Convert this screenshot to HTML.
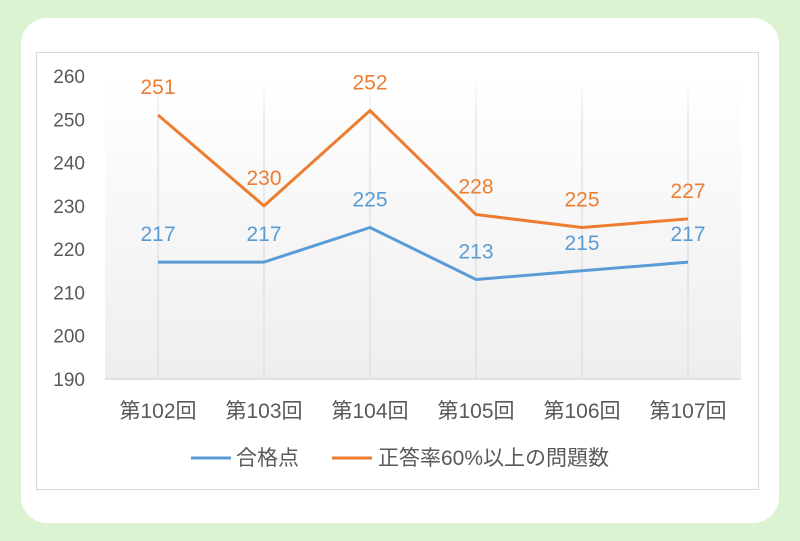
<!DOCTYPE html>
<html><head><meta charset="utf-8"><style>
html,body{margin:0;padding:0;background:#dcf3d2;width:800px;height:541px;overflow:hidden}
#card{position:absolute;left:21px;top:18px;width:758px;height:505px;background:#fff;border-radius:26px}
svg{position:absolute;left:0;top:0}
text{font-family:"Liberation Sans","Noto Sans CJK JP",sans-serif}
</style></head><body>
<div id="card"></div>
<svg id="chart" width="800" height="541">
<defs><linearGradient id="bg" x1="0" y1="0" x2="0" y2="1"><stop offset="0" stop-color="#ffffff"/><stop offset="1" stop-color="#eeeeee"/></linearGradient>
<linearGradient id="gg" x1="0" y1="0" x2="0" y2="1"><stop offset="0" stop-color="#d9d9d9" stop-opacity="0"/><stop offset="0.15" stop-color="#d9d9d9" stop-opacity="1"/><stop offset="1" stop-color="#d9d9d9"/></linearGradient></defs>
<rect x="36.5" y="52.5" width="722" height="437" fill="#fff" stroke="#d9d9d9"/>
<rect x="105" y="76" width="636" height="303" fill="url(#bg)"/>
<g id="grid"></g><g id="yticks"></g><g id="xticks"></g><g id="series"></g>
<g>
<line x1="191" y1="458" x2="231" y2="458" stroke="#5b9bd5" stroke-width="3"/>
<text x="236" y="465" font-size="21" fill="#595959">合格点</text>
<line x1="332" y1="458" x2="372" y2="458" stroke="#ed7d31" stroke-width="3"/>
<text x="378" y="465" font-size="21" fill="#595959">正答率60%以上の問題数</text>
</g>
</svg>
<script>
const categories=["第102回","第103回","第104回","第105回","第106回","第107回"];
const passScore=[217,217,225,213,215,217];
const problemCount=[251,230,252,228,225,227];
const yTicks=[190,200,210,220,230,240,250,260];
const NS="http://www.w3.org/2000/svg";
const x=i=>158+i*106;
const y=v=>379-(v-190)*(303/70);
function mk(tag,attrs,parent,txt){const e=document.createElementNS(NS,tag);for(const k in attrs)e.setAttribute(k,attrs[k]);if(txt!==undefined)e.textContent=txt;parent.appendChild(e);return e;}
const grid=document.getElementById('grid'),yt=document.getElementById('yticks'),xt=document.getElementById('xticks'),ser=document.getElementById('series');
categories.forEach((c,i)=>{
  const g=mk('rect',{x:x(i)-0.5,width:1,y:y(260),height:y(190)-y(260),fill:'url(#gg)'},grid);
  
  
  const t=mk('text',{x:x(i),y:418,'font-size':21,fill:'#595959','text-anchor':'middle'},xt,c);
  
  
});
const ax=mk('line',{x1:105,x2:741,y1:y(190),y2:y(190),stroke:'#d9d9d9','stroke-width':1.5},grid);


yTicks.forEach(v=>{
  const t=mk('text',{x:85,y:y(v)+7,'font-size':19,fill:'#595959','text-anchor':'end'},yt,v);
  
  
});
function series(data,color,name){
  const p=mk('polyline',{points:data.map((v,i)=>x(i)+','+y(v)).join(' '),fill:'none',stroke:color,'stroke-width':3,'stroke-linejoin':'round'},ser);
  
  
  data.forEach((v,i)=>{
    const t=mk('text',{x:x(i),y:y(v)-21,'font-size':21,fill:color,'text-anchor':'middle'},ser,v);
    
    
  });
}
series(passScore,'#5b9bd5','pass-score');
series(problemCount,'#ed7d31','problem-count');
</script>
</body></html>
